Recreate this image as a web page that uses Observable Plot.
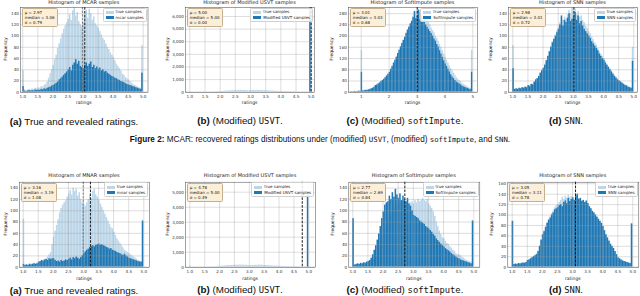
<!DOCTYPE html>
<html><head><meta charset="utf-8">
<script src="https://cdn.jsdelivr.net/npm/d3@7"></script>
<script src="https://cdn.jsdelivr.net/npm/@observablehq/plot@0.6"></script>
<style>
html,body{margin:0;padding:0;background:#fff;}
#fig{position:relative;width:640px;height:296px;overflow:hidden;font-family:"DejaVu Sans",sans-serif;}
.t{position:absolute;white-space:nowrap;color:#222;}
.sw{display:inline-block;width:8px;height:3px;margin-right:2px;vertical-align:middle;}
.cap{font-family:"Liberation Sans",Arial,sans-serif;color:#111;}
.mono{font-family:"DejaVu Sans Mono","Liberation Mono",monospace;font-size:0.9em;}
</style></head><body><div id="fig"></div><script>
// ---------- data ----------
const binStart = 1.0;
const binWidth = 0.05;
const ticksHalf = [1.0,1.5,2.0,2.5,3.0,3.5,4.0,4.5,5.0];
const ticksInt = [1,2,3,4,5];
const freq140 = [0,20,40,60,80,100,120,140];
const freq160 = [0,20,40,60,80,100,120,140,160];
const freq280 = [0,40,80,120,160,200,240,280];
const freq6000 = [0,1000,2000,3000,4000,5000,6000];
const freq5000 = [0,1000,2000,3000,4000,5000];

const titlesMCAR = ["Histogram of MCAR samples","Histogram of Modified USVT samples","Histogram of SoftImpute samples","Histogram of SNN samples"];
const titlesMNAR = ["Histogram of MNAR samples","Histogram of Modified USVT samples","Histogram of SoftImpute samples","Histogram of SNN samples"];
const legendTrue = "true samples";
const legendMCAR = ["mcar samples","Modified USVT samples","SoftImpute samples","SNN samples"];
const legendMNAR = ["mnar samples","Modified USVT samples","SoftImpute samples","SNN samples"];
const statsMCAR = [["μ = 2.97","median = 3.06","σ = 0.79"],["μ = 5.00","median = 5.00","σ = 0.00"],["μ = 3.01","median = 3.03","σ = 0.68"],["μ = 2.98","median = 3.01","σ = 0.72"]];
const statsMNAR = [["μ = 3.16","median = 3.19","σ = 1.08"],["μ = 4.78","median = 5.00","σ = 0.49"],["μ = 2.77","median = 2.69","σ = 0.84"],["μ = 3.05","median = 3.11","σ = 0.78"]];
const dashMCAR = [3.06, 5.0, 3.01, 3.02];
const dashMNAR = [3.23, 4.78, 2.72, 3.10];
const trueMeanMCAR = 2.98;
const trueMeanMNAR = 2.99;

// MCAR row (bins of 0.05 from 1.0 to 5.0)
const trueMCAR = [38,
 4,3,4,5,4,6,5,7,6,
 8,7,10,9,12,14,18,25,33,40,
 48,58,66,78,86,95,104,112,118,124,
 130,138,128,145,150,136,142,126,120,116,
 124,138,146,132,148,140,128,134,122,118,
 114,108,102,96,92,86,80,76,70,66,
 62,56,50,46,42,38,32,30,26,24,
 22,19,16,14,12,11,9,8,7,
 83];
const mcarSamples = [10,
 2,1,2,3,2,3,2,4,3,
 4,3,5,4,6,5,7,8,9,11,
 12,14,16,18,22,24,27,30,33,36,
 40,44,38,48,52,58,50,55,46,44,
 42,48,52,46,50,54,44,48,42,45,
 41,43,38,40,36,37,34,32,30,28,
 27,25,24,22,21,19,18,17,15,14,
 13,12,11,10,9,8,7,6,5,
 34];
const usvtMCARBins = [79];
const usvtMCARCounts = [6700];
const trueSoftMCAR = [149,
 6,8,7,10,9,12,11,14,13,
 18,20,22,26,30,36,40,46,52,58,
 66,76,86,96,108,118,130,142,154,166,
 178,190,202,216,228,240,256,270,280,286,
 292,296,284,280,272,268,262,256,248,240,
 228,220,212,200,192,182,170,160,148,136,
 125,114,104,94,84,76,68,60,52,46,
 42,38,32,28,25,22,19,16,14,
 149];
const softMCAR = [71,
 4,5,6,6,8,9,12,14,18,
 24,26,30,33,38,42,46,52,58,64,
 71,82,92,104,114,125,138,150,162,174,
 185,196,210,222,232,244,252,266,288,262,
 270,292,258,266,250,256,240,232,224,216,
 209,200,190,182,170,161,148,136,124,112,
 101,92,82,72,62,54,48,42,36,33,
 30,26,22,19,17,15,13,11,9,
 71];
const softMCARBelowStart = 0.6;
const softMCARBelow = [1,2,1,3,2,2,4,3];
const trueSNNMCAR = [83,
 5,6,6,7,7,8,8,9,9,
 12,12,14,15,18,22,25,29,34,40,
 44,50,57,64,73,82,90,96,102,110,
 116,124,132,128,134,130,138,146,140,150,
 142,148,138,144,134,136,128,124,118,114,
 108,104,98,94,88,84,78,72,68,64,
 60,55,50,46,42,38,34,30,27,24,
 21,19,17,15,13,12,10,9,8,
 80];
const snnMCAR = [42,
 5,6,5,7,6,8,7,9,8,
 12,10,14,13,18,22,24,28,34,38,
 42,48,56,64,72,80,88,94,100,106,
 112,120,136,118,128,124,132,140,126,130,
 134,142,128,136,122,126,118,112,108,104,
 100,96,90,86,82,78,74,68,64,60,
 57,52,48,44,40,36,32,28,25,22,
 20,18,16,14,12,11,9,8,7,
 55];

// MNAR row
const trueMNAR = [85,
 4,5,4,6,5,6,7,6,7,
 6,8,9,10,12,14,18,22,26,40,
 53,64,74,84,96,104,110,114,118,124,
 130,136,128,140,134,138,126,132,120,114,
 110,108,114,120,128,122,134,138,128,124,
 118,112,106,100,94,88,82,76,70,68,
 62,56,50,46,42,38,34,30,28,26,
 24,22,20,18,16,14,12,11,10,
 80];
const mnarSamples = [5,
 3,4,3,5,4,5,6,5,6,
 9,10,12,11,13,14,12,15,14,15,
 15,12,10,11,9,12,10,11,13,12,
 14,16,13,17,15,18,16,14,17,20,
 24,27,30,32,35,37,38,36,39,40,
 41,39,40,38,37,35,34,32,33,30,
 29,28,26,25,24,22,21,23,20,18,
 16,15,14,13,12,11,10,9,9,
 82];
const usvtMNARBins = [79];
const usvtMNARCounts = [4800];
const trueSoftMNAR = [80,
 3,4,4,5,5,6,6,7,7,
 8,9,10,12,14,16,20,26,34,44,
 54,64,72,80,88,94,100,104,108,110,
 112,114,110,116,112,114,118,112,114,116,
 112,118,114,120,116,118,122,118,116,120,
 112,108,104,98,90,80,72,64,58,52,
 50,46,42,40,36,34,30,28,24,22,
 22,20,18,16,14,12,11,10,9,
 80];
const softMNAR = [86,
 4,5,6,5,7,6,8,7,9,
 10,12,16,22,30,38,48,59,72,86,
 98,110,114,116,126,120,132,124,138,128,
 122,130,118,126,120,116,122,112,108,100,
 92,90,88,86,82,80,78,76,72,70,
 68,65,62,58,55,50,47,44,41,38,
 36,33,31,29,27,24,22,20,18,16,
 15,13,12,11,10,9,8,7,6,
 82];
const trueSNNMNAR = [88,
 5,6,6,7,7,8,8,9,9,
 13,14,16,18,21,23,26,31,41,52,
 63,70,78,86,92,97,103,108,114,118,
 120,124,128,134,130,136,132,138,134,136,
 134,130,136,138,132,130,128,126,124,126,
 120,116,112,106,104,100,96,92,88,84,
 78,70,62,56,50,44,40,36,30,24,
 18,16,14,12,11,10,9,8,7,
 83];
const snnMNAR = [88,
 5,6,5,7,6,7,8,7,9,
 13,14,16,18,20,22,24,30,40,52,
 62,68,76,84,90,94,100,104,110,112,
 114,118,120,116,124,127,122,132,126,130,
 133,128,136,140,130,132,126,128,124,127,
 122,116,112,107,104,100,96,92,88,84,
 78,70,62,56,50,44,40,36,30,24,
 18,16,14,12,11,10,9,8,7,
 83];

// ---------- helpers ----------
function toBars(counts, start) {
  return counts.map((c, i) => ({x1: start + i * binWidth, x2: start + (i + 1) * binWidth, y: c}));
}
function sparseBars(idx, counts, start) {
  return idx.map((k, j) => ({x1: start + k * binWidth, x2: start + (k + 1) * binWidth, y: counts[j]}));
}
const fig = document.getElementById("fig");
function el(html, css, cls) {
  const d = document.createElement("div");
  d.className = "t" + (cls ? " " + cls : "");
  d.innerHTML = html;
  Object.assign(d.style, css);
  fig.appendChild(d);
  return d;
}
const LIGHT = "#bcd6e9", DARK = "#1f77b4";

// ---------- layout ----------
const rows = [
  {top: 0, h: 104, mt: 7, fb: 91.7, titleY: 3.0, ratingsY: 101.5},
  {top: 170, h: 110, mt: 11.7, fb: 266.7, titleY: 176, ratingsY: 278}
];
const panels = [
  {row:0,col:0,L:20,R:147.5,dom:[0.924,5.159],ymax:151,yt:freq140,xt:ticksHalf,freqX:5,
   title:titlesMCAR[0],light:toBars(trueMCAR,binStart),dark:toBars(mcarSamples,binStart),lab:legendMCAR[0],stats:statsMCAR[0],dash:dashMCAR[0],mean:trueMeanMCAR},
  {row:0,col:1,L:185,R:314,dom:[0.858,5.109],ymax:6713,yt:freq6000,xt:ticksHalf,freqX:166.5,
   title:titlesMCAR[1],light:toBars(trueMCAR,binStart),dark:sparseBars(usvtMCARBins,usvtMCARCounts,binStart),lab:legendMCAR[1],stats:statsMCAR[1],dash:dashMCAR[1]},
  {row:0,col:2,L:348,R:477,dom:[0.545,5.168],ymax:302,yt:freq280,xt:ticksInt,freqX:330.5,
   title:titlesMCAR[2],light:toBars(trueSoftMCAR,binStart),dark:toBars(softMCAR,binStart).concat(toBars(softMCARBelow,softMCARBelowStart)),lab:legendMCAR[2],stats:statsMCAR[2],dash:dashMCAR[2]},
  {row:0,col:3,L:508,R:637,dom:[0.858,5.122],ymax:151,yt:freq140,xt:ticksHalf,freqX:490,
   title:titlesMCAR[3],light:toBars(trueSNNMCAR,binStart),dark:toBars(snnMCAR,binStart),lab:legendMCAR[3],stats:statsMCAR[3],dash:dashMCAR[3]},
  {row:1,col:0,L:19,R:149,dom:[0.877,5.189],ymax:150.6,yt:freq140,xt:ticksHalf,freqX:4.5,
   title:titlesMNAR[0],light:toBars(trueMNAR,binStart),dark:toBars(mnarSamples,binStart),lab:legendMNAR[0],stats:statsMNAR[0],dash:dashMNAR[0],mean:trueMeanMNAR},
  {row:1,col:1,L:185,R:315,dom:[0.855,5.225],ymax:5667,yt:freq5000,xt:ticksHalf,freqX:166.5,
   title:titlesMNAR[1],light:toBars(trueMNAR,binStart),dark:sparseBars(usvtMNARBins,usvtMNARCounts,binStart),lab:legendMNAR[1],stats:statsMNAR[1],dash:dashMNAR[1]},
  {row:1,col:2,L:348.3,R:479.3,dom:[0.868,5.198],ymax:150.6,yt:freq140,xt:ticksHalf,freqX:332,
   title:titlesMNAR[2],light:toBars(trueSoftMNAR,binStart),dark:toBars(softMNAR,binStart),lab:legendMNAR[2],stats:statsMNAR[2],dash:dashMNAR[2]},
  {row:1,col:3,L:507.3,R:638.3,dom:[0.854,5.199],ymax:163,yt:freq160,xt:ticksHalf,freqX:490.5,
   title:titlesMNAR[3],light:toBars(trueSNNMNAR,binStart),dark:toBars(snnMNAR,binStart),lab:legendMNAR[3],stats:statsMNAR[3],dash:dashMNAR[3]}
];

for (const p of panels) {
  const r = rows[p.row];
  const left = p.col * 160;
  const fh = r.fb - (r.top + r.mt);
  const marks = [
    Plot.rectY(p.light, {x1:"x1", x2:"x2", y:"y", fill:LIGHT, inset:0, clip:true}),
    Plot.rectY(p.dark, {x1:"x1", x2:"x2", y:"y", fill:DARK, inset:0, clip:true}),
    Plot.gridX(p.xt, {stroke:"#9a9a9a", strokeOpacity:0.55, strokeWidth:0.6}),
    Plot.gridY(p.yt, {stroke:"#9a9a9a", strokeOpacity:0.55, strokeWidth:0.6})
  ];
  if (p.mean !== undefined) marks.push(Plot.ruleX([p.mean], {stroke:"#666", strokeWidth:0.8, strokeDasharray:"2.4,1.2"}));
  marks.push(
    Plot.ruleX([p.dash], {stroke:"#111", strokeWidth:0.95, strokeDasharray:"2.6,1.3"}),
    Plot.frame({stroke:"#444", strokeWidth:0.5}),
    Plot.axisX(p.xt, {tickSize:0, tickPadding:2.4, label:null, tickFormat: p.xt === ticksInt ? d3.format("d") : d3.format(".1f")}),
    Plot.axisY(p.yt, {tickSize:0, tickPadding:1.6, label:null})
  );
  const svg = Plot.plot({
    width: 160, height: r.h,
    marginLeft: p.L - left, marginRight: left + 160 - p.R,
    marginTop: r.mt, marginBottom: r.h - r.mt - fh,
    x: {domain: p.dom, label: null},
    y: {domain: [0, p.ymax], label: null},
    style: {fontFamily: "DejaVu Sans", fontSize: "4.1px", color: "#333", background: "transparent", overflow: "visible"},
    marks
  });
  svg.style.position = "absolute";
  svg.style.left = left + "px";
  svg.style.top = r.top + "px";
  fig.appendChild(svg);

  const ft = r.top + r.mt;
  const cx = (p.L + p.R) / 2;
  el(p.title, {left: cx + "px", top: r.titleY + "px", transform: "translate(-50%,-50%)", fontSize: "5px", lineHeight: "5.6px"});
  el("ratings", {left: cx + "px", top: r.ratingsY + "px", transform: "translate(-50%,-50%)", fontSize: "4.5px"});
  el("Frequency", {left: p.freqX + "px", top: (ft + r.fb) / 2 + "px", transform: "translate(-50%,-50%) rotate(-90deg)", fontSize: "4.5px"});
  el(p.stats.join("<br>"), {left: (p.L + 1.5) + "px", top: (ft + 1.2) + "px", fontSize: "4px", lineHeight: "5.2px",
    padding: "0.8px 2.2px", background: "#fbefda", border: "0.5px solid #c4b08e", borderRadius: "1.5px", color: "#111"});
  el(`<div><span class="sw" style="background:${LIGHT}"></span>${legendTrue}</div><div><span class="sw" style="background:${DARK}"></span>${p.lab}</div>`,
    {right: (640 - p.R + 0.8) + "px", top: (ft + 0.6) + "px", fontSize: "4px", lineHeight: "5.4px",
     padding: "0.8px 2px", background: "rgba(255,255,255,0.85)", border: "0.5px solid #d0d0d0", borderRadius: "1.5px", color: "#222"});
}

// ---------- captions ----------
const subCaps = [
  ['(a)', 'True and revealed ratings.'],
  ['(b)', '(Modified) <span class="mono">USVT</span>.'],
  ['(c)', '(Modified) <span class="mono">softImpute</span>.'],
  ['(d)', '<span class="mono">SNN</span>.']
];
const capCenters = [74, 240, 405, 566];
const capRowsY = [121, 290];
for (const y of capRowsY) {
  subCaps.forEach((c, i) => {
    el(`<b>${c[0]}</b> ${c[1]}`, {left: capCenters[i] + "px", top: y + "px", transform: "translate(-50%,-50%)", fontSize: "9.8px", lineHeight: "11px"}, "cap");
  });
}
el('<b>Figure 2:</b> MCAR: recovered ratings distributions under (modified) <span class="mono">USVT</span>, (modified) <span class="mono">softImpute</span>, and <span class="mono">SNN</span>.',
  {left: "320px", top: "139px", transform: "translate(-50%,-50%)", fontSize: "8.2px", lineHeight: "9px"}, "cap");
</script></body></html>
